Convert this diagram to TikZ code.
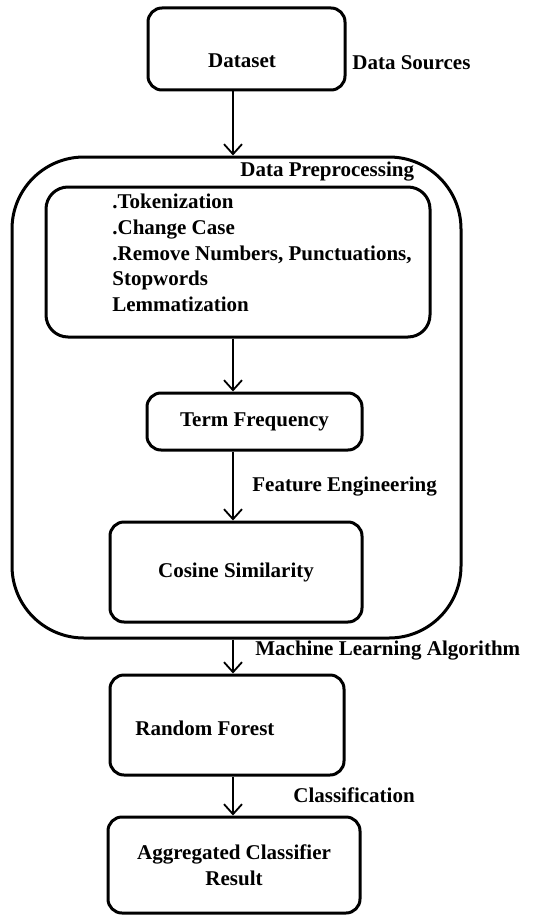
\documentclass[tikz,border=0pt]{standalone}
\usepackage{fontspec}
\setmainfont{Liberation Serif}
\usetikzlibrary{arrows.meta}
\begin{document}
\begin{tikzpicture}[x=0.5pt,y=-0.5pt,
  every node/.style={font=\bfseries\fontsize{10.5}{12.8}\selectfont},
  box/.style={draw, line width=1.5pt, rounded corners=7pt, inner sep=0pt},
  flow/.style={line width=0.9pt, -{Straight Barb[length=5pt,width=9pt,line width=0.9pt]}},
  lbl/.style={anchor=west, inner sep=0pt}]
  \useasboundingbox (0,0) rectangle (542,915);
  \coordinate (axis) at (233,0);
  \node[box, minimum width=98.5pt, minimum height=41pt] (data) at (246.5,49) {};
  \node[inner sep=0pt] (datatext) at (242,61) {Dataset};
  \node[lbl] (sources) at (352,63) {Data Sources};
  \node[box, rounded corners=36pt, minimum width=224.5pt, minimum height=240.5pt] (prep) at (236.5,397.5) {};
  \node[lbl] (preplbl) at (240,172) {Data Preprocessing};
  \node[box, rounded corners=11pt, minimum width=192pt, minimum height=75pt] (steps) at (238,262) {};
  \node[anchor=north west, align=left, inner sep=0pt] (stepstext) at (112,194)
    {.Tokenization\\.Change Case\\.Remove Numbers, Punctuations,\\Stopwords\\Lemmatization};
  \node[box, minimum width=107.5pt, minimum height=28.5pt] (tf) at (254.5,421.5) {Term Frequency};
  \node[lbl] (feat) at (252,487) {Feature Engineering};
  \node[box, minimum width=126pt, minimum height=50pt] (cos) at (236,572) {Cosine Similarity};
  \node[lbl] (ml) at (255,651) {Machine Learning Algorithm};
  \node[box, minimum width=117pt, minimum height=50pt] (rf) at (227,725) {};
  \node[lbl] (rftext) at (135,728) {Random Forest};
  \node[lbl] (cls) at (293,795) {Classification};
  \node[box, align=center, minimum width=126pt, minimum height=48pt] (agg) at (234,865) {Aggregated Classifier\\Result};
  \draw[flow] (data.south -| axis) -- (prep.north -| axis);
  \draw[flow] (steps.south -| axis) -- (tf.north -| axis);
  \draw[flow] (tf.south -| axis) -- (cos.north -| axis);
  \draw[flow] (prep.south -| axis) -- (rf.north -| axis);
  \draw[flow] (rf.south -| axis) -- (agg.north -| axis);
\end{tikzpicture}
\end{document}
